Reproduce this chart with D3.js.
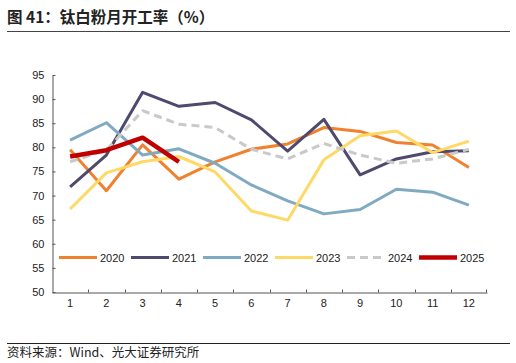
<!DOCTYPE html>
<html><head><meta charset="utf-8">
<script src="https://cdn.jsdelivr.net/npm/d3@7"></script>
<style>body{margin:0;background:#fff}svg{display:block}</style>
</head><body>
<svg id="c" width="516" height="363"></svg>
<script>
const months = [1,2,3,4,5,6,7,8,9,10,11,12];
const yTicks = [50,55,60,65,70,75,80,85,90,95];
const s2020 = [79.5,71.0,80.5,73.4,77.0,79.6,80.7,84.1,83.3,81.0,80.5,75.8];
const s2021 = [71.8,78.4,91.4,88.5,89.3,85.7,79.2,85.8,74.3,77.6,79.1,79.3];
const s2022 = [81.5,85.1,78.4,79.7,76.7,72.2,68.9,66.2,67.1,71.3,70.7,68.0];
const s2023 = [67.2,74.7,77.0,78.1,74.9,66.8,64.9,77.4,82.4,83.4,78.9,81.3];
const s2024 = [77.0,79.4,87.6,84.8,84.1,79.6,77.6,80.8,78.4,76.7,77.6,79.6];
const s2025 = [78.1,79.4,82.0,77.0];
const seriesNames = ["2020","2021","2022","2023","2024","2025"];
const seriesColors = ["#F0812F","#4E4A6E","#7FAAC2","#FFD966","#C9C9C9","#C00000"];
const seriesWidths = [3,3,3,3,3,4.5];
const seriesDash = [null,null,null,null,"8,5",null];
const seriesData = [s2020,s2021,s2022,s2023,s2024,s2025];

const svg = d3.select("#c");
const cjk = "'Noto Sans CJK SC','Noto Sans',sans-serif";
const lat = "'Liberation Sans',Arial,sans-serif";

svg.append("text").attr("x",7).attr("y",23).attr("font-family",cjk).attr("font-weight","bold")
  .attr("font-size",15.5).attr("fill","#222").text("图 41：钛白粉月开工率（%）");
svg.append("line").attr("x1",7).attr("x2",510).attr("y1",31.5).attr("y2",31.5).attr("stroke","#444").attr("stroke-width",1);
svg.append("line").attr("x1",7).attr("x2",510).attr("y1",343.5).attr("y2",343.5).attr("stroke","#222").attr("stroke-width",1);
svg.append("text").attr("x",7).attr("y",357).attr("font-family",cjk)
  .attr("font-size",12.5).attr("fill","#222").text("资料来源：Wind、光大证券研究所");

const pL=52, pR=487, pT=75, pB=292;
const x = d3.scaleBand().domain(months).range([pL,pR]);
const y = d3.scaleLinear().domain([50,95]).range([pB,pT]);

const yAxis = svg.append("g").attr("transform",`translate(${pL+0.5},0)`)
  .call(d3.axisLeft(y).tickValues(yTicks).tickSizeInner(-3).tickSizeOuter(0).tickPadding(8));
const xAxis = svg.append("g").attr("transform",`translate(0,${pB+0.5})`)
  .call(d3.axisBottom(x).tickSize(0).tickPadding(7));
[yAxis,xAxis].forEach(g=>{
  g.select(".domain").attr("stroke","#555");
  g.selectAll(".tick line").attr("stroke","#555");
  g.selectAll("text").attr("font-family",lat).attr("font-size",11).attr("fill","#222");
});
// x tick marks at band boundaries (inward)
xAxis.selectAll(".bt").data(months.slice(1).concat([13])).enter().append("line")
  .attr("x1",d=>x(d)!==undefined?Math.round(x(d))+0.5:pR-0.5).attr("x2",d=>x(d)!==undefined?Math.round(x(d))+0.5:pR-0.5)
  .attr("y1",0).attr("y2",-3).attr("stroke","#555");

const line = d3.line().x((d,i)=>x(months[i])+x.bandwidth()/2).y(d=>y(d));
seriesData.forEach((data,k)=>{
  svg.append("path").datum(data).attr("d",line).attr("fill","none")
    .attr("stroke",seriesColors[k]).attr("stroke-width",seriesWidths[k])
    .attr("stroke-dasharray",seriesDash[k]).attr("stroke-linejoin","round");
});

// legend
const lg = svg.append("g");
seriesNames.forEach((n,k)=>{
  const x0 = 59 + k*72;
  lg.append("line").attr("x1",x0).attr("x2",x0+38).attr("y1",257.5).attr("y2",257.5)
    .attr("stroke",seriesColors[k]).attr("stroke-width",seriesWidths[k]).attr("stroke-dasharray",seriesDash[k]);
  lg.append("text").attr("x",x0+41).attr("y",261.5).attr("font-family",lat).attr("font-size",11)
    .attr("fill","#222").text(n);
});
</script>
</body></html>
